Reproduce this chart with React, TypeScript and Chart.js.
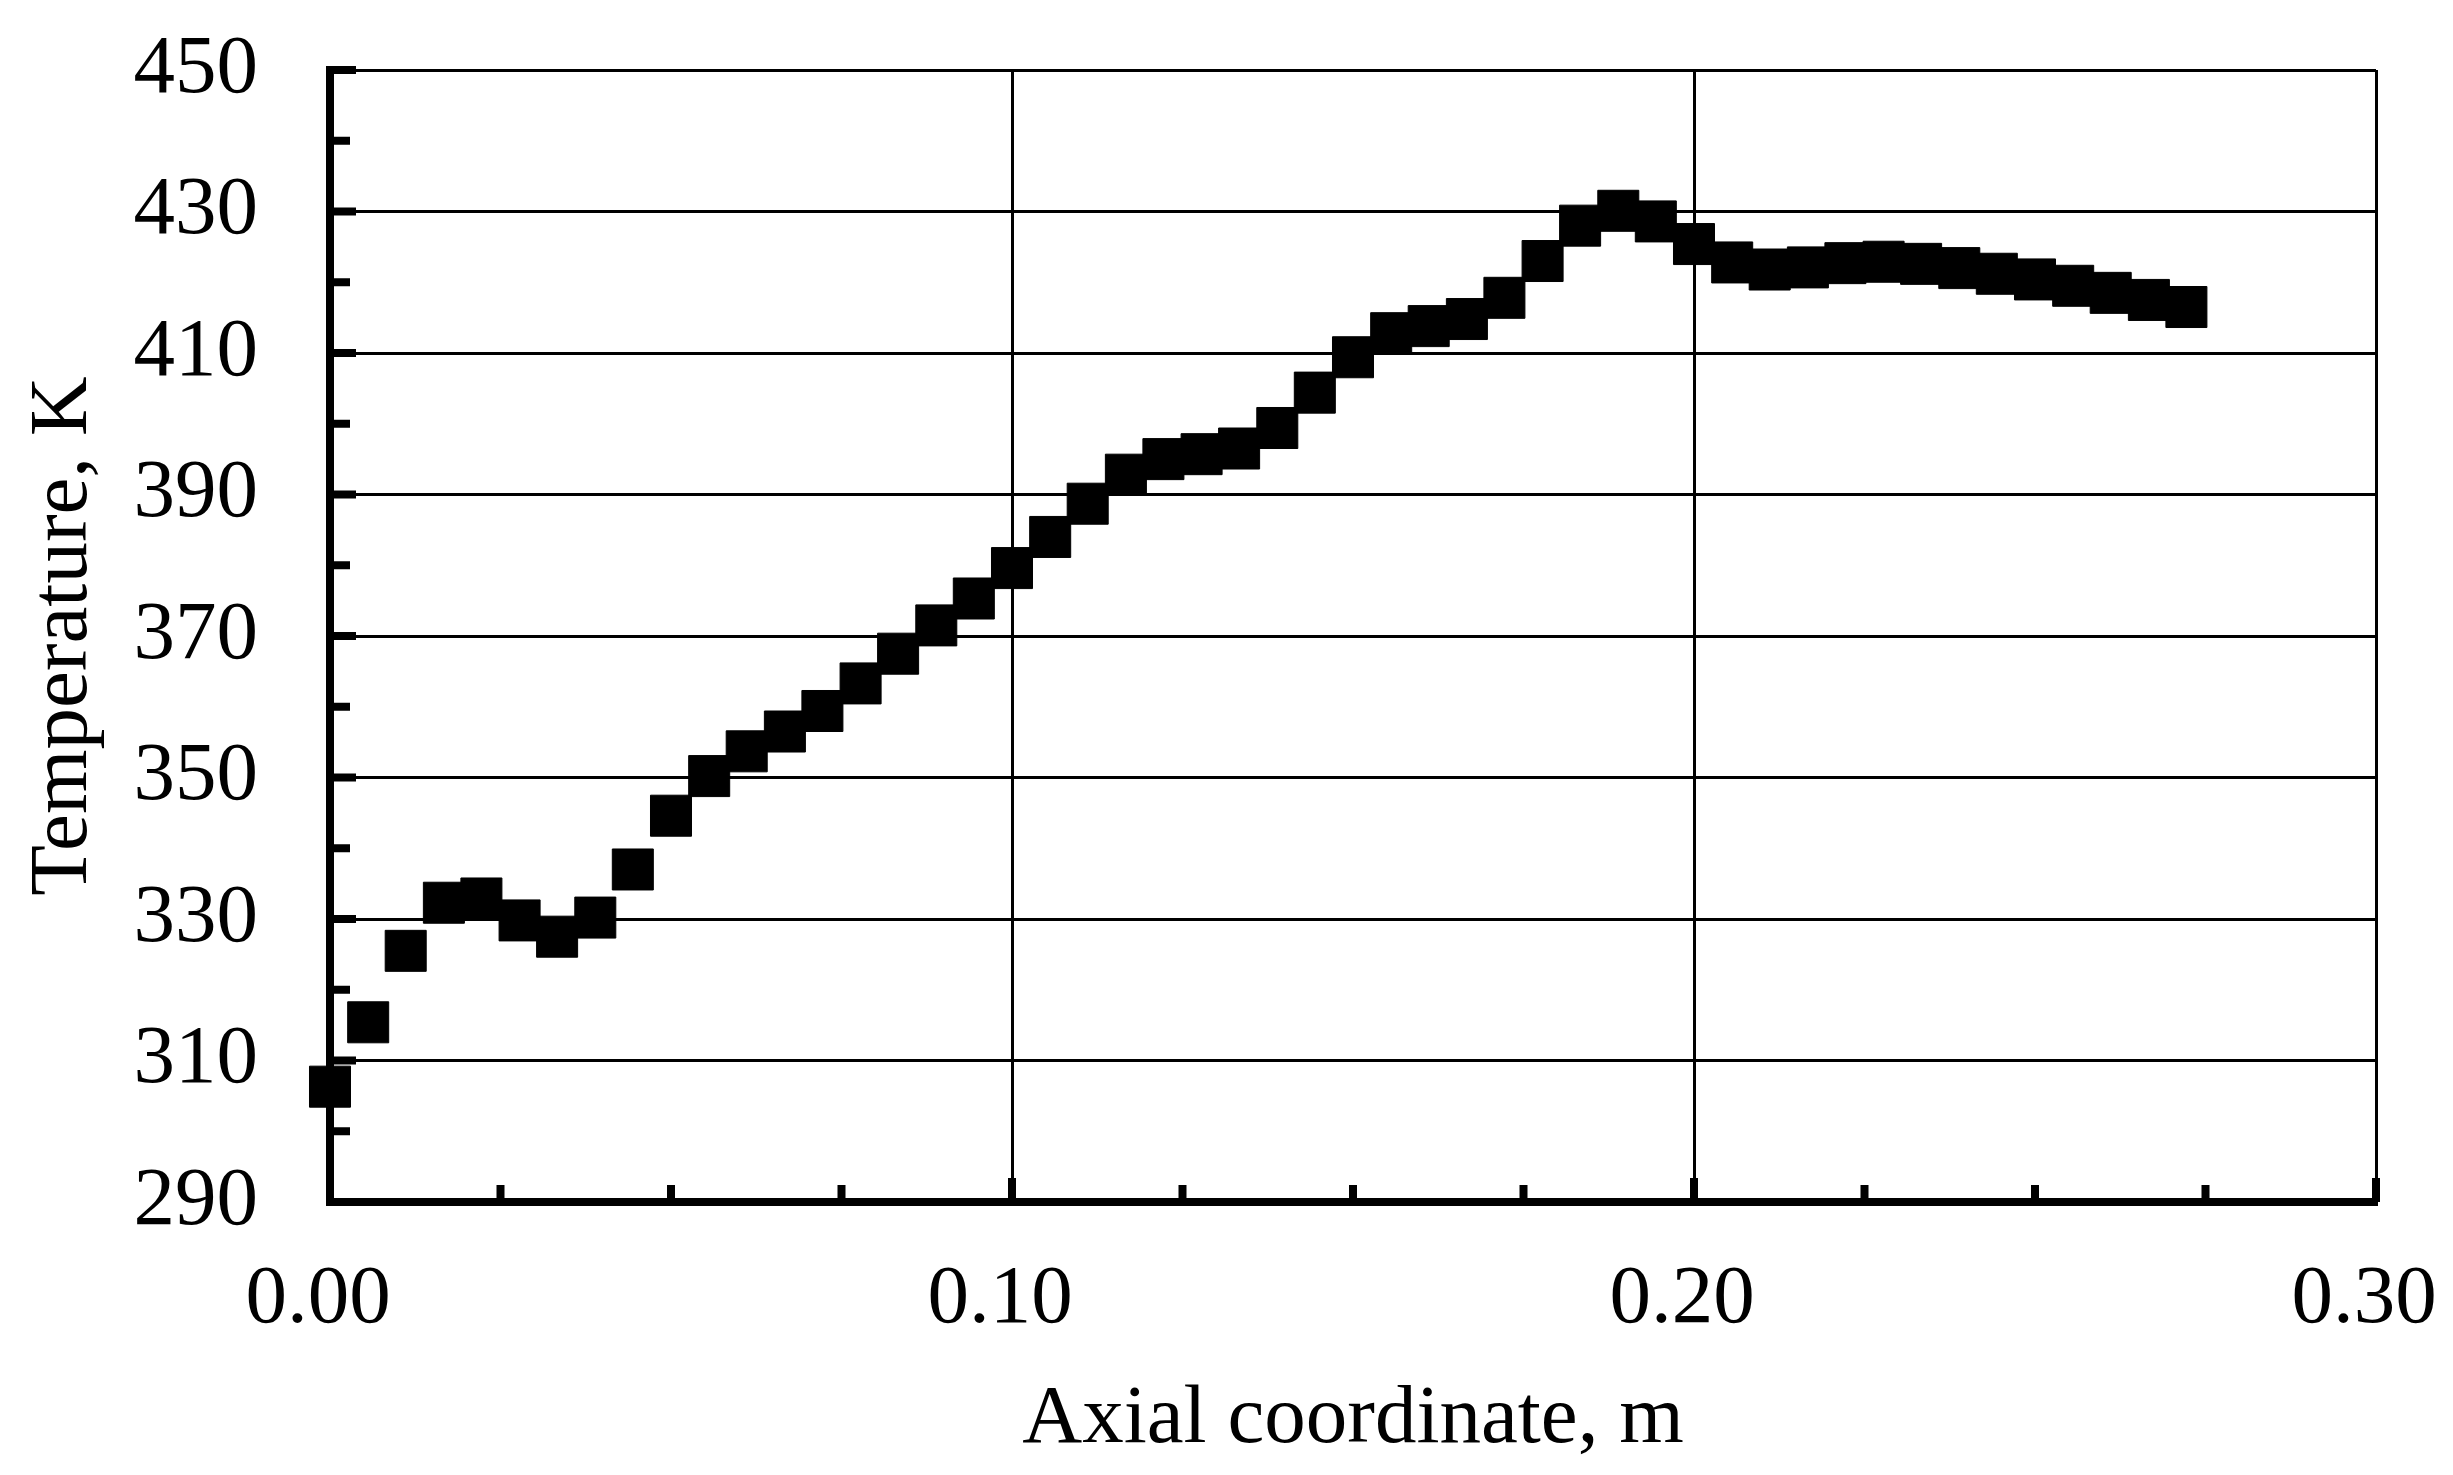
import React, { useEffect, useRef } from "react";
import { Chart, registerables } from "chart.js";

Chart.register(...registerables);

// Axial coordinate (m) of each measurement point
const axialCoordinate = [
  0.0, 0.0056, 0.0111, 0.0167, 0.0222, 0.0278, 0.0333, 0.0389, 0.0444, 0.05,
  0.0556, 0.0611, 0.0667, 0.0722, 0.0778, 0.0833, 0.0889, 0.0944, 0.1, 0.1056,
  0.1111, 0.1167, 0.1222, 0.1278, 0.1333, 0.1389, 0.1444, 0.15, 0.1556, 0.1611,
  0.1667, 0.1722, 0.1778, 0.1833, 0.1889, 0.1944, 0.2, 0.2056, 0.2111, 0.2167,
  0.2222, 0.2278, 0.2333, 0.2389, 0.2444, 0.25, 0.2556, 0.2611, 0.2667, 0.2722,
];

// Temperature (K)
const temperature = [
  306.3, 315.4, 325.5, 332.3, 332.9, 329.8, 327.5, 330.2, 337.0, 344.6,
  350.2, 353.7, 356.5, 359.4, 363.3, 367.5, 371.5, 375.3, 379.6, 384.0,
  388.7, 392.8, 395.0, 395.7, 396.5, 399.4, 404.4, 409.4, 412.8, 413.8,
  414.8, 417.8, 423.0, 428.0, 430.1, 428.6, 425.4, 422.8, 421.8, 422.1,
  422.7, 422.9, 422.6, 422.0, 421.2, 420.4, 419.5, 418.5, 417.5, 416.5,
];

const yMajorTicks = [290, 310, 330, 350, 370, 390, 410, 430, 450];
const yMinorTicks = [300, 320, 340, 360, 380, 400, 420, 440];
const xMajorTicks = [0.1, 0.2, 0.3];
const xMinorTicks = [0.025, 0.05, 0.075, 0.125, 0.15, 0.175, 0.225, 0.25, 0.275];

const W = 2453;
const H = 1475;
const FONT = "'Liberation Serif', 'Times New Roman', serif";

export default function App() {
  const ref = useRef<HTMLCanvasElement>(null);

  useEffect(() => {
    const canvas = ref.current;
    if (!canvas) return;

    const innerTicks = {
      id: "innerTicks",
      afterDraw(chart: any) {
        const c = chart.ctx;
        const xs = chart.scales.x;
        const ys = chart.scales.y;
        const left = chart.chartArea.left;
        const bottom = chart.chartArea.bottom;
        c.save();
        c.fillStyle = "#000";
        yMajorTicks.forEach((v) => {
          const p = ys.getPixelForValue(v);
          c.fillRect(left, p - 4, 26, 8);
        });
        yMinorTicks.forEach((v) => {
          const p = ys.getPixelForValue(v);
          c.fillRect(left, p - 4, 20, 8);
        });
        xMajorTicks.forEach((v) => {
          const p = xs.getPixelForValue(v);
          c.fillRect(p - 4, bottom - 24, 8, 24);
        });
        xMinorTicks.forEach((v) => {
          const p = xs.getPixelForValue(v);
          c.fillRect(p - 4, bottom - 17, 8, 17);
        });
        c.restore();
      },
    };

    const chart = new Chart(canvas, {
      type: "scatter",
      data: {
        datasets: [
          {
            data: axialCoordinate.map((x, i) => ({ x, y: temperature[i] })),
            pointStyle: "rect",
            pointRadius: 29,
            pointHoverRadius: 29,
            backgroundColor: "#000",
            borderColor: "#000",
            borderWidth: 1,
            showLine: false,
            clip: false,
          } as any,
        ],
      },
      options: {
        animation: false,
        responsive: false,
        devicePixelRatio: 1,
        events: [],
        layout: { padding: { left: 0, top: 70, right: 77, bottom: 0 } },
        plugins: {
          legend: { display: false },
          tooltip: { enabled: false },
        },
        scales: {
          x: {
            type: "linear",
            min: 0,
            max: 0.3,
            ticks: {
              stepSize: 0.1,
              callback: (v: any) => Number(v).toFixed(2),
              font: { family: FONT, size: 83 },
              color: "#000",
              padding: 48,
              labelOffset: -12,
              maxRotation: 0,
              autoSkip: false,
            },
            grid: { color: "#000", lineWidth: 3, drawTicks: false },
            border: { display: true, color: "#000", width: 8 },
            title: {
              display: true,
              text: "Axial coordinate, m",
              font: { family: FONT, size: 83 },
              color: "#000",
              padding: { top: 0, bottom: 5 },
            },
            afterFit: (s: any) => {
              s.height = 273;
              s.paddingLeft = 0;
              s.paddingRight = 0;
            },
          },
          y: {
            type: "linear",
            min: 290,
            max: 450,
            ticks: {
              stepSize: 20,
              font: { family: FONT, size: 83 },
              color: "#000",
              padding: 72,
              autoSkip: false,
            },
            grid: { color: "#000", lineWidth: 3, drawTicks: false },
            border: { display: true, color: "#000", width: 8 },
            title: {
              display: true,
              text: "Temperature, K",
              font: { family: FONT, size: 83 },
              color: "#000",
              padding: { top: 14, bottom: 0 },
            },
            afterFit: (s: any) => {
              s.width = 330;
              s.paddingTop = 0;
              s.paddingBottom = 0;
            },
          },
        },
      } as any,
      plugins: [innerTicks],
    });

    return () => chart.destroy();
  }, []);

  return (
    <div
      style={{
        position: "fixed",
        left: 0,
        top: 0,
        width: W,
        height: H,
        background: "#fff",
      }}
    >
      <canvas
        ref={ref}
        width={W}
        height={H}
        style={{ display: "block", width: W, height: H }}
      />
    </div>
  );
}
